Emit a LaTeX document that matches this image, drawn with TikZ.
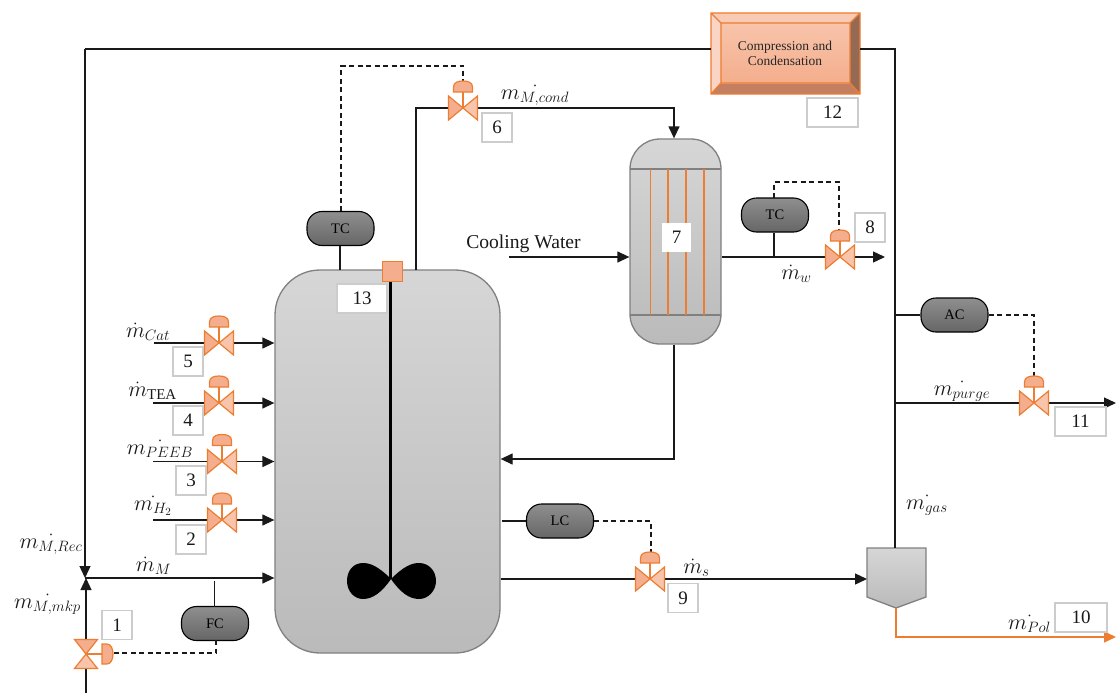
\RequirePackage{fix-cm}
\documentclass[tikz,border=0pt]{standalone}
\usepackage{fontspec}
\setmainfont{Liberation Serif}
\DeclareMathSizes{19}{22}{15}{11}
\usetikzlibrary{arrows.meta,calc}
\definecolor{orng}{HTML}{ED7D31}
\definecolor{vdark}{HTML}{F4AE8D}
\definecolor{vlight}{HTML}{F8C4AB}
\definecolor{bevtop}{HTML}{F9CBB6}
\definecolor{bevleft}{HTML}{FAD5C5}
\definecolor{bevbot}{HTML}{C47F62}
\definecolor{bevright}{HTML}{946A55}
\tikzset{
  x=1pt,y=-1pt,
  pipe/.style={draw=black!90,line width=1.3pt},
  flow/.style={pipe,-{Triangle[length=12pt,width=11pt]}},
  signal/.style={draw=black!90,line width=1.25pt,dash pattern=on 5pt off 3.5pt},
  numbox/.style={draw=black!20,line width=1.1pt,fill=white,inner sep=0pt,font=\fontsize{19}{19}\selectfont,text=black!90},
  ctrl/.style={draw=black,line width=1.1pt,rounded corners=15pt,top color=black!44,bottom color=black!60,minimum width=67pt,minimum height=34pt,inner sep=0pt,font=\fontsize{14.5}{15}\selectfont},
  vessel/.style={draw=black!50,line width=1.3pt,top color=black!16,bottom color=black!27,inner sep=0pt},
  lab/.style={inner sep=0pt,font=\fontsize{19}{19}\selectfont,text=black!90},
  vpart/.style={draw=orng,line width=1.2pt,line join=miter},
  tube/.style={draw=orng,line width=1.4pt},
  valveup/.pic={
    \path[vpart,fill=vdark] (0,0) -- (-14.5,-12) -- (-14.5,12) -- cycle;
    \path[vpart,fill=vlight] (0,0) -- (14.5,-12) -- (14.5,12) -- cycle;
    \draw[orng,line width=1.2pt] (0,0) -- (0,-16);
    \path[vpart,fill=vdark] (-9.5,-16) -- (-9.5,-21) .. controls (-9.5,-25.5) and (-5,-27) .. (0,-27) .. controls (5,-27) and (9.5,-25.5) .. (9.5,-21) -- (9.5,-16) -- cycle;
  },
  valveright/.pic={
    \path[vpart,fill=vdark] (0,0) -- (-11.5,-14.5) -- (11.5,-14.5) -- cycle;
    \path[vpart,fill=vlight] (0,0) -- (-11.5,14.5) -- (11.5,14.5) -- cycle;
    \draw[orng,line width=1.2pt] (0,0) -- (16,0);
    \path[vpart,fill=vdark] (16,-10) -- (21,-10) .. controls (25,-10) and (27,-5) .. (27,0) .. controls (27,5) and (25,10) .. (21,10) -- (16,10) -- cycle;
  }
}
\begin{document}
\begin{tikzpicture}
\useasboundingbox (0,0) rectangle (1116,693);

% vessels
\node[vessel,rounded corners=45pt,minimum width=225pt,minimum height=383pt] (reactor) at (387.5,461.5) {};
\node[vessel,rounded corners=30pt,minimum width=91pt,minimum height=205pt] (column) at (675.5,241.5) {};
\path[vessel] (867,548) -- (926,548) -- (926,597) -- (896,608) -- (867,597) -- cycle;
\coordinate (septop) at (895,548);
\coordinate (sepin) at (867,579);
\coordinate (sepbot) at (896,608);

% compression unit
\node[inner sep=0pt,minimum width=149pt,minimum height=81pt] (comp) at (785.5,53.5) {};
\fill[bevtop] (711,13) -- (860,13) -- (850,23) -- (721,23) -- cycle;
\fill[bevleft] (711,13) -- (721,23) -- (721,83) -- (711,94) -- cycle;
\fill[bevbot] (711,94) -- (721,83) -- (850,83) -- (860,94) -- cycle;
\fill[bevright] (860,13) -- (850,23) -- (850,83) -- (860,94) -- cycle;
\path[top color=vlight,bottom color=vdark] (721,23) rectangle (850,83);
\draw[orng,line width=1.3pt] (711,13) rectangle (860,94) (721,23) rectangle (850,83)
  (711,13) -- (721,23) (860,13) -- (850,23) (711,94) -- (721,83) (860,94) -- (850,83);
\node[inner sep=0pt,align=center,font=\fontsize{13.5}{14.5}\selectfont,text=black!85] (comptext) at (785,53.5) {Compression and\\Condensation};

% column internals
\draw[black!50,line width=1.3pt] (630,169) -- (721,169) (630,315) -- (721,315);
\draw[tube] (650.5,169) -- (650.5,315);
\draw[tube] (668,169) -- (668,315);
\draw[tube] (686,169) -- (686,315);
\draw[tube] (704,169) -- (704,315);

% valve positions
\coordinate (v1) at (86,654);
\coordinate (v2) at (222,520);
\coordinate (v3) at (222,461.5);
\coordinate (v4) at (219,403);
\coordinate (v5) at (219,343);
\coordinate (v6) at (463,108);
\coordinate (v8) at (840,257);
\coordinate (v9) at (650,579);
\coordinate (v11) at (1034,403);

% free ends
\coordinate (in1) at (86,693);
\coordinate (in2) at (153,520);
\coordinate (in3) at (153,461.5);
\coordinate (in4) at (153,403);
\coordinate (in5) at (154,343);
\coordinate (cw) at (509,257);
\coordinate (mix) at (85,578);
\coordinate (out8) at (885,257);
\coordinate (out11) at (1116,403);
\coordinate (out10) at (1116,637);
\coordinate (rectop) at (85,49);
\coordinate (recright) at (895,49);
\coordinate (purgej) at (895,403);
\coordinate (acj) at (895,315);
\coordinate (condc) at (674,108);
\coordinate (rtn) at (674,459);
\coordinate (rtop) at (416,270);
\coordinate (rtopb) at (416,108);

% controllers
\node[ctrl] (tc1) at (340.5,228.5) {TC};
\node[ctrl] (tc2) at (775,215) {TC};
\node[ctrl] (ac) at (954.5,315) {AC};
\node[ctrl] (lc) at (560,521) {LC};
\node[ctrl] (fc) at (215,623.5) {FC};

% pipes
\draw[pipe] (comp.west |- rectop) -- (rectop);
\draw[flow] (rectop) -- (mix);
\draw[flow] (in1) -- ($(mix)+(1,0)$);
\draw[flow] (mix) -- (reactor.west |- mix);
\draw[pipe] (comp.east |- recright) -- (recright) -- (septop);
\draw[flow] (in2) -- (reactor.west |- in2);
\draw[flow] (in3) -- (reactor.west |- in3);
\draw[flow] (in4) -- (reactor.west |- in4);
\draw[flow] (in5) -- (reactor.west |- in5);
\draw[pipe] (rtop) -- (rtopb) -- (v6);
\draw[flow] (v6) -- (condc) -- (condc |- column.north);
\draw[flow] (column.south -| rtn) -- (rtn) -- (reactor.east |- rtn);
\draw[flow] (cw) -- (column.west |- cw);
\draw[flow] (column.east |- cw) -- (out8);
\draw[flow] (reactor.east |- v9) -- (sepin);
\draw[flow] (purgej) -- (out11);
\draw[orng,line width=1.3pt,-{Triangle[length=12pt,width=11pt]}] (sepbot) |- (out10);

% controller ties
\draw[pipe] (340,246) -- (340,270);
\draw[pipe] (tc2.south -| 774,0) -- (774,257);
\draw[pipe] (acj) -- (ac.west);
\draw[pipe] (502,521) -- (lc.west);
\draw[pipe] (214.5,581) -- (214.5,607);

% signals
\draw[signal] (341,211) -- (341,66) -- (463,66) -- (463,82);
\draw[signal] (774,198) -- (774,182) -- (839,182) -- (839,229);
\draw[signal] (ac.east) -- (1034,315) -- (1034,376);
\draw[signal] (lc.east) -- (651,521) -- (651,552);
\draw[signal] (216,640) -- (216,653) -- (113,653);

% valves
\pic at (v2) {valveup};
\pic at (v3) {valveup};
\pic at (v4) {valveup};
\pic at (v5) {valveup};
\pic at (v6) {valveup};
\pic at (v8) {valveup};
\pic at (v9) {valveup};
\pic at (v11) {valveup};
\pic at (v1) {valveright};

% agitator
\draw[black,line width=3pt] (390.5,281) -- (390.5,579);
\fill[black] (391,579) .. controls (378,566) and (370,563) .. (363,563) .. controls (353,563) and (347,571) .. (347,581) .. controls (347,591) and (354,599) .. (363,599) .. controls (373,599) and (382,592) .. (391,579);
\fill[black] (391,579) .. controls (404,566) and (412,563) .. (419,563) .. controls (429,563) and (436,571) .. (436,581) .. controls (436,591) and (428,599) .. (419,599) .. controls (409,599) and (400,592) .. (391,579);
\node[draw=orng,line width=1pt,fill=vdark,minimum size=20pt,inner sep=0pt] (sensor) at (392,271) {};

% number boxes
\node[numbox,minimum width=30pt,minimum height=29pt] (n1) at (117,625) {1};
\node[numbox,minimum width=30pt,minimum height=29pt] (n2) at (191,539.5) {2};
\node[numbox,minimum width=30pt,minimum height=29pt] (n3) at (191,480.5) {3};
\node[numbox,minimum width=30pt,minimum height=29pt] (n4) at (188,420.5) {4};
\node[numbox,minimum width=30pt,minimum height=29pt] (n5) at (188,361.5) {5};
\node[numbox,minimum width=30pt,minimum height=29pt] (n6) at (497,127.5) {6};
\node[numbox,draw=none,minimum width=29pt,minimum height=29pt] (n7) at (676.5,237.5) {7};
\node[numbox,minimum width=30pt,minimum height=29pt] (n8) at (870,227.5) {8};
\node[numbox,minimum width=30pt,minimum height=29pt] (n9) at (683,598) {9};
\node[numbox,minimum width=52pt,minimum height=29pt] (n10) at (1081,617.5) {10};
\node[numbox,minimum width=51pt,minimum height=29pt] (n11) at (1080.5,421.5) {11};
\node[numbox,minimum width=51pt,minimum height=29pt] (n12) at (832.5,112.5) {12};
\node[numbox,minimum width=50pt,minimum height=29pt] (n13) at (362,298.5) {13};

% labels
\node[lab,font=\fontsize{19.6}{19}\selectfont] (lcw) at (523.5,244) {Cooling Water};
\node[lab] (l5) at (148,332) {$\dot{m}_{Cat}$};
\node[lab] (l4) at (152.5,391) {$\dot{m}_{\mathrm{TEA}}$};
\node[lab] (l3) at (160,449) {$\dot{m_{PEEB}}$};
\node[lab] (l2) at (153,506) {$\dot{m_{H_2}}$};
\node[lab] (lrec) at (51,544) {$\dot{m_{M,Rec}}$};
\node[lab] (lm) at (153.5,566) {$\dot{m}_{M}$};
\node[lab] (lmkp) at (47.5,604) {$\dot{m_{M,mkp}}$};
\node[lab] (lcond) at (535,95) {$\dot{m_{M,cond}}$};
\node[lab] (lw) at (796.5,274) {$\dot{m}_{w}$};
\node[lab] (ls) at (696.5,568) {$\dot{m}_{s}$};
\node[lab] (lpurge) at (962,391) {$\dot{m_{purge}}$};
\node[lab] (lgas) at (927,505) {$\dot{m_{gas}}$};
\node[lab] (lpol) at (1029.5,624) {$\dot{m_{Pol}}$};
\end{tikzpicture}
\end{document}
